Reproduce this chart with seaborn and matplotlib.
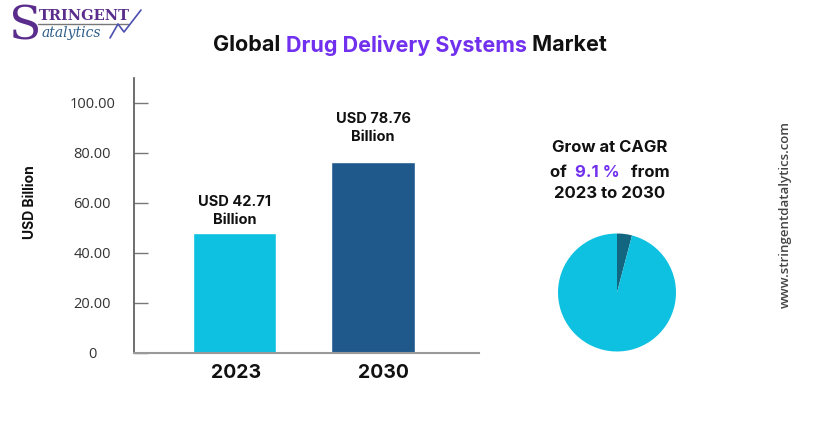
import matplotlib
matplotlib.use("Agg")
import matplotlib.pyplot as plt
import seaborn as sns
from matplotlib.lines import Line2D

# ---------------- data ----------------
years = ["2023", "2030"]
bar_values = [48.0, 76.4]                 # bar heights as drawn
bar_labels = ["USD 42.71\nBillion", "USD 78.76\nBillion"]
bar_colors = ["#0ec1e0", "#1f598c"]
y_ticks = [0, 20, 40, 60, 80, 100]
y_ticklabels = ["0", "20.00", "40.00", "60.00", "80.00", "100.00"]
pie_shares = [4.1, 95.9]
pie_colors = ["#13667f", "#0ec1e0"]
cagr_text = "9.1 %"

sns.set_theme(style="white")
plt.rcParams["font.family"] = ["Inter", "DejaVu Sans"]

W, H = 816, 426
fig = plt.figure(figsize=(W / 100, H / 100), dpi=100)

def fx(px):
    return px / W

def fy(py):
    return 1 - py / H

# ---------------- bar chart ----------------
ax = fig.add_axes([fx(134), fy(353), fx(479) - fx(134), fy(78) - fy(353)])
sns.barplot(x=years, y=bar_values, hue=years, palette=bar_colors, width=0.6,
            saturation=1, legend=False, ax=ax)
ax.set_xlim(-0.726, 1.765)
ax.set_ylim(0, 110)
ax.set_yticks(y_ticks)
ax.set_yticklabels(y_ticklabels, color="#333333", fontsize=10.5, family=["Open Sans", "DejaVu Sans"])
for lab in ax.get_yticklabels():
    lab.set_horizontalalignment("center")
ax.tick_params(axis="y", direction="in", length=10, width=1, color="#777777", pad=30, left=True)
ax.set_xticks([])
ax.set_xlabel("")
ax.set_ylabel("")
for s in ["top", "right"]:
    ax.spines[s].set_visible(False)
ax.spines["left"].set_color("#555555")
ax.spines["left"].set_linewidth(1.2)
ax.spines["bottom"].set_color("#999999")
ax.spines["bottom"].set_linewidth(1.5)
ax.grid(False)

label_offsets = [6, 18]
for i, (v, t) in enumerate(zip(bar_values, bar_labels)):
    ax.annotate(t, xy=(i, v), xytext=(0, label_offsets[i] * 0.72), textcoords="offset points",
                ha="center", va="bottom", fontsize=10.5, fontweight="bold", color="#111111",
                linespacing=1.4)

year_dx = [2, 10]
for i, y in enumerate(years):
    ax.annotate(y, xy=(i, 0), xycoords=("data", "axes fraction"),
                xytext=(year_dx[i] * 0.72, -20 * 0.72), textcoords="offset points",
                ha="center", va="center", fontsize=14, fontweight="bold", color="#111111")

fig.text(fx(30), fy(202), "USD Billion", rotation=90, ha="center", va="center",
         fontsize=10, fontweight="bold", color="#111111")

# ---------------- multi-coloured text helper ----------------
renderer = fig.canvas.get_renderer()

def colored_line(cx, cy, pieces, **kw):
    texts = []
    widths = []
    for s, c in pieces:
        t = fig.text(0, fy(cy), s, color=c, ha="left", va="center", **kw)
        widths.append(t.get_window_extent(renderer=renderer).width)
        texts.append(t)
    total = sum(widths)
    x = cx - total / 2
    for t, w in zip(texts, widths):
        t.set_x(fx(x))
        x += w

purple = "#7130ee"
colored_line(410, 45, [("Global ", "#111111"), ("Drug Delivery Systems", purple),
                       (" Market", "#111111")], fontsize=15.5, fontweight="bold")

# ---------------- CAGR block ----------------
fig.text(fx(610), fy(148), "Grow at CAGR", ha="center", va="center", fontsize=12,
         fontweight="bold", color="#111111")
colored_line(610, 172, [("of  ", "#111111"), (cagr_text, purple), ("   from", "#111111")],
             fontsize=12, fontweight="bold")
fig.text(fx(610), fy(194), "2023 to 2030", ha="center", va="center", fontsize=12,
         fontweight="bold", color="#111111")

# ---------------- pie ----------------
pax = fig.add_axes([fx(558), fy(351.5), fx(118), 118 / H])
pax.pie(pie_shares, colors=pie_colors, startangle=90, counterclock=False,
        wedgeprops=dict(linewidth=0))
pax.set_aspect("equal")
pax.set_xlim(-1, 1)
pax.set_ylim(-1, 1)
pax.axis("off")

# ---------------- website ----------------
fig.text(fx(785), fy(214), "www.stringentdatalytics.com", rotation=90, ha="center",
         va="center", fontsize=9.5, fontweight="semibold", color="#444444",
         family=["Open Sans", "DejaVu Sans"])

# ---------------- logo ----------------
fig.text(fx(9), fy(27), "S", fontsize=34, family="DejaVu Serif", color="#5a2d8c",
         ha="left", va="center")
fig.text(fx(39), fy(16), "TRINGENT", fontsize=10.5, family="DejaVu Serif",
         fontweight="bold", color="#5a2d8c", ha="left", va="center")
fig.add_artist(Line2D([fx(38), fx(128)], [fy(24), fy(24)], color="#777777", lw=1))
fig.text(fx(42), fy(33), "atalytics", fontsize=10, family="DejaVu Serif", style="italic",
         color="#2f5f8a", ha="left", va="center")
fig.add_artist(Line2D([fx(110), fx(118), fx(124), fx(141)],
                      [fy(38), fy(24), fy(32), fy(10)], color="#4a4fb0", lw=1.2))

fig.savefig("out.png", dpi=100)
